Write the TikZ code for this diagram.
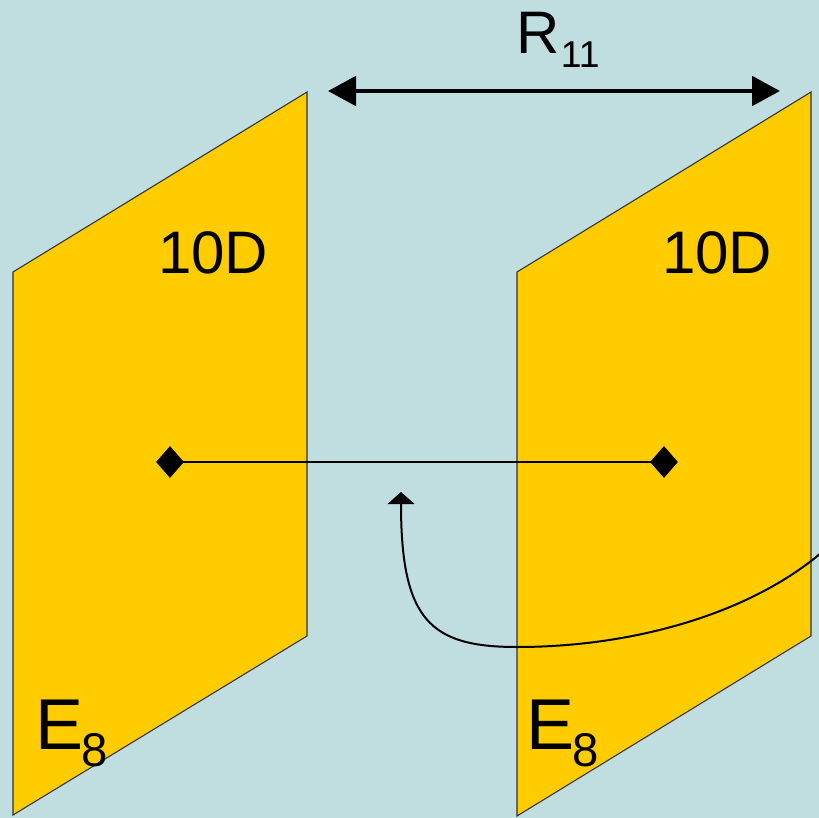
\documentclass[tikz,border=0pt]{standalone}
\usepackage{fontspec}
\setmainfont{Liberation Sans}
\definecolor{bgblue}{RGB}{192,221,224}
\definecolor{braneyellow}{RGB}{255,204,0}
\definecolor{braneedge}{RGB}{50,50,50}
\usetikzlibrary{arrows.meta,shapes.geometric}

\begin{document}
\begin{tikzpicture}[x=0.75pt,y=0.75pt,yscale=-1,xscale=1,
	brane/.style={fill=braneyellow,draw=braneedge,line width=0.8pt,line join=miter},
	lbl/.style={inner sep=0pt,anchor=base west,text=black},
	endpt/.style={diamond,fill=black,inner sep=0pt,minimum width=21pt,minimum height=24pt},
	gap/.style={line width=3pt,{Triangle[length=21pt,width=22pt]}-{Triangle[length=21pt,width=22pt]}},
	loopback/.style={line width=1.5pt,-{Triangle[length=9pt,width=20pt]}}]
	\clip (0,0) rectangle (819,818);
	\fill[bgblue] (0,0) rectangle (819,818);

	%Shape: Parallelogram [left brane]
	\draw[brane] (13,272) -- (307,92) -- (307,636) -- (13,815) -- cycle;
	%Shape: Parallelogram [right brane]
	\draw[brane] (517,272) -- (811,92) -- (811,636) -- (517,816) -- cycle;

	%Straight Lines [distance between branes]
	\coordinate (gapl) at (328,91);
	\coordinate (gapr) at (780,91);
	\draw[gap] (gapl) -- (gapr);

	% Text Node
	\node[lbl,font=\fontsize{45}{45}\selectfont] (r11) at (516,53) {R\kern1pt\raisebox{-10.5pt}{\fontsize{28}{28}\selectfont 11}};
	% Text Node
	\node[lbl,font=\fontsize{45}{45}\selectfont] (dl) at (158,273) {10D};
	% Text Node
	\node[lbl,font=\fontsize{45}{45}\selectfont] (dr) at (662,273) {10D};
	% Text Node
	\node[lbl,font=\fontsize{54}{54}\selectfont] (el) at (35,749) {E\kern-1.5pt\raisebox{-12.75pt}{\fontsize{35.5}{35.5}\selectfont 8}};
	% Text Node
	\node[lbl,font=\fontsize{54}{54}\selectfont] (er) at (526,749) {E\kern-1.5pt\raisebox{-12.75pt}{\fontsize{35.5}{35.5}\selectfont 8}};

	%Shape: Diamonds and the line between them
	\node[endpt] (pl) at (170,462) {};
	\node[endpt] (pr) at (664,462) {};
	\draw[line width=1.5pt] (pl.center) -- (pr.center);

	%Curve Lines [coming back in]
	\coordinate (cin) at (830,545);
	\coordinate (low) at (517,647);
	\coordinate (ctip) at (401,492);
	\draw[loopback] (cin) .. controls (760,610) and (640,647) .. (low)
		.. controls (430,647) and (401,620) .. (ctip);
\end{tikzpicture}
\end{document}
